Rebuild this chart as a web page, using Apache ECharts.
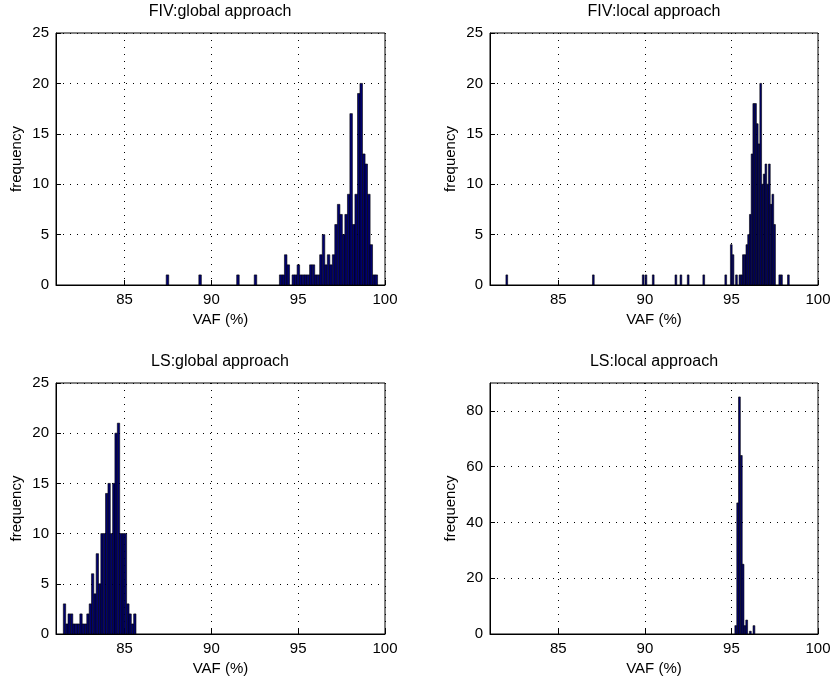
<!DOCTYPE html>
<html>

<head>
    <meta charset="utf-8">
    <script type="text/javascript" src="https://cdn.jsdelivr.net/npm/echarts@6/dist/echarts.min.js"></script>
    <title>VAF histograms</title>
</head>

<body style="margin:0;background:#fff;">
    <div id="container" style="width:835px;height:680px;"></div>
    <script type="text/javascript">
    // tick labels shared by all panels
    var xTicks = [85, 90, 95, 100];

    // FIV: global approach (bin centres, counts)
    var fivGlobalX = [87.47, 89.35, 91.53, 92.54, 93.99, 94.14, 94.28, 94.43, 94.72, 94.86,
        95.01, 95.15, 95.30, 95.44, 95.59, 95.73, 95.88, 96.02, 96.17, 96.31,
        96.46, 96.60, 96.75, 96.89, 97.04, 97.18, 97.33, 97.47, 97.62, 97.76,
        97.91, 98.05, 98.20, 98.34, 98.49, 98.63, 98.78, 98.92, 99.07, 99.21,
        99.36, 99.50];
    var fivGlobalN = [1, 1, 1, 1, 1, 1, 3, 2, 1, 1,
        2, 1, 1, 1, 1, 2, 2, 1, 1, 3,
        5, 2, 3, 2, 3, 6, 8, 7, 5, 7,
        9, 17, 6, 9, 19, 20, 13, 12, 9, 4,
        1, 1];

    // FIV: local approach
    var fivLocalX = [82.02, 87.02, 89.90, 90.06, 90.48, 91.79, 92.08, 92.50, 93.40, 94.67,
        94.99, 95.09, 95.29, 95.49, 95.59, 95.69, 95.79, 95.89, 95.99, 96.09,
        96.19, 96.29, 96.39, 96.49, 96.59, 96.69, 96.79, 96.89, 96.99, 97.09,
        97.19, 97.29, 97.39, 97.49, 97.79, 97.89, 98.29];
    var fivLocalN = [1, 1, 1, 1, 1, 1, 1, 1, 1, 1,
        4, 3, 1, 1, 1, 3, 3, 4, 5, 7,
        13, 18, 18, 16, 14, 20, 10, 11, 12, 10,
        12, 8, 9, 6, 1, 1, 1];

    // LS: global approach
    var lsGlobalX = [81.00, 81.54, 81.68, 81.81, 81.95, 82.08, 82.22, 82.35, 82.49, 82.62,
        82.76, 82.89, 83.03, 83.16, 83.30, 83.43, 83.57, 83.70, 83.84, 83.97,
        84.11, 84.24, 84.38, 84.51, 84.65, 84.78, 84.92, 85.05, 85.19, 85.32,
        85.46, 85.59];
    var lsGlobalN = [2, 3, 1, 2, 2, 1, 1, 1, 2, 1,
        1, 2, 3, 6, 4, 8, 5, 10, 10, 14,
        15, 10, 15, 20, 21, 10, 10, 10, 3, 2,
        1, 2];

    // LS: local approach
    var lsLocalX = [95.25, 95.36, 95.46, 95.57, 95.67, 95.78, 95.88, 96.09, 96.30];
    var lsLocalN = [3, 47, 85, 64, 25, 3, 5, 1, 3];

    var myChart = echarts.init(document.getElementById('container'));

    var FONT = 'Liberation Sans, Arial, sans-serif';

    function pairs(xs, ns) {
        return xs.map(function (x, i) { return [x, ns[i]]; });
    }

    // histogram bars drawn as rects through the axis scales
    function histItem(w) {
        return function (params, api) {
            var x = api.value(0), n = api.value(1);
            if (!n) return null;
            var p0 = api.coord([x - w / 2, 0]);
            var p1 = api.coord([x + w / 2, n]);
            var cs = params.coordSys;
            var rect = echarts.graphic.clipRectByRect(
                { x: p0[0], y: p1[1], width: p1[0] - p0[0], height: p0[1] - p1[1] },
                { x: cs.x, y: cs.y, width: cs.width, height: cs.height });
            if (!rect) return null;
            return {
                type: 'rect',
                shape: rect,
                style: { fill: '#000070', stroke: '#000', lineWidth: 0.6 }
            };
        };
    }

    var dotted = { color: '#000', width: 1, type: [1, 6] };

    function xAxisFor(i) {
        return {
            gridIndex: i, type: 'value', min: 81.05, max: 100,
            axisLine: { onZero: false, lineStyle: { color: '#000', width: 1 } },
            axisTick: { inside: true, length: 5, customValues: xTicks, lineStyle: { color: '#000' } },
            axisLabel: { customValues: xTicks, color: '#000', fontSize: 15, margin: 7, fontFamily: FONT },
            splitLine: { show: true, lineStyle: dotted },
            name: 'VAF (%)', nameLocation: 'middle', nameGap: 27,
            nameTextStyle: { color: '#000', fontSize: 15, fontFamily: FONT }
        };
    }

    function yAxisFor(i, max, interval) {
        return {
            gridIndex: i, type: 'value', min: 0, max: max, interval: interval,
            axisLine: { show: true, lineStyle: { color: '#000', width: 1 } },
            axisTick: { show: true, inside: true, length: 5, lineStyle: { color: '#000' } },
            axisLabel: { color: '#000', fontSize: 15, margin: 7, fontFamily: FONT, showMaxLabel: max % interval === 0 },
            splitLine: { show: true, lineStyle: dotted },
            name: 'frequency', nameLocation: 'middle', nameGap: 32,
            nameTextStyle: { color: '#000', fontSize: 15, fontFamily: FONT }
        };
    }

    function titleFor(text, left, top) {
        return {
            text: text, left: left, top: top, textAlign: 'center', padding: 0,
            textStyle: { color: '#000', fontSize: 16, fontWeight: 'normal', fontFamily: FONT }
        };
    }

    var gridBase = { show: true, borderColor: '#000', borderWidth: 1, backgroundColor: '#fff' };

    var option = {
        animation: false,
        backgroundColor: '#fff',
        title: [
            titleFor('FIV:global approach', 220, 4),
            titleFor('FIV:local approach', 654, 4),
            titleFor('LS:global approach', 220, 354),
            titleFor('LS:local approach', 654, 354)
        ],
        grid: [
            Object.assign({ left: 56, top: 33, width: 329, height: 252 }, gridBase),
            Object.assign({ left: 490, top: 33, width: 328, height: 252 }, gridBase),
            Object.assign({ left: 56, top: 383, width: 329, height: 251 }, gridBase),
            Object.assign({ left: 490, top: 383, width: 328, height: 251 }, gridBase)
        ],
        xAxis: [xAxisFor(0), xAxisFor(1), xAxisFor(2), xAxisFor(3)],
        yAxis: [yAxisFor(0, 25, 5), yAxisFor(1, 25, 5), yAxisFor(2, 25, 5), yAxisFor(3, 90, 20)],
        series: [
            { type: 'custom', xAxisIndex: 0, yAxisIndex: 0, clip: true, renderItem: histItem(0.145), data: pairs(fivGlobalX, fivGlobalN) },
            { type: 'custom', xAxisIndex: 1, yAxisIndex: 1, clip: true, renderItem: histItem(0.1), data: pairs(fivLocalX, fivLocalN) },
            { type: 'custom', xAxisIndex: 2, yAxisIndex: 2, clip: true, renderItem: histItem(0.135), data: pairs(lsGlobalX, lsGlobalN) },
            { type: 'custom', xAxisIndex: 3, yAxisIndex: 3, clip: true, renderItem: histItem(0.105), data: pairs(lsLocalX, lsLocalN) }
        ]
    };

    myChart.setOption(option);
    </script>
</body>

</html>
